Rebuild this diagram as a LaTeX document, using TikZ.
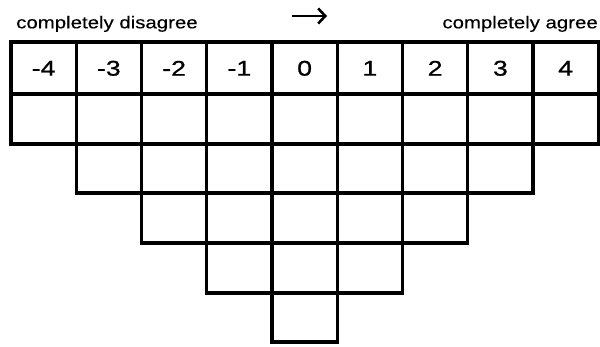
\documentclass[tikz,border=0pt]{standalone}
\usepackage{fontspec}
\setmainfont{Liberation Sans}
\newfontfamily\heavysans{Liberation Sans}[FakeBold=0.9]
\newfontfamily\lightsans{Liberation Sans}[FakeBold=0.3]
\usetikzlibrary{arrows.meta}

\tikzset{
  cell/.style={line width=3.3pt, line join=miter},
  lbl/.style={inner sep=0pt, xscale=1.2, font=\lightsans\fontsize{17}{20}\selectfont},
  num/.style={inner sep=0pt, xscale=1.25, font=\heavysans\fontsize{21.3}{24}\selectfont},
}

\begin{document}
\begin{tikzpicture}[x=1pt,y=-1pt]
\useasboundingbox (0,0) rectangle (600,346);
%Skala
\node[lbl, anchor=base west] (dis) at (16,28.3) {completely disagree};
\node[lbl, anchor=base east] (agr) at (598,28.3) {completely agree};
\coordinate (arrL) at (292,16);
\coordinate (arrR) at (327,16);
\draw[line width=2.6pt, -{Straight Barb[length=7pt,width=15pt]}] (arrL) -- (arrR);
%Raster
\foreach \yt/\yb/\a/\b in {42/94/0/8, 94/144/0/8, 144/193/1/7, 193/243/2/6, 243/293/3/5, 293/342/4/4}
  \foreach \c in {\a,...,\b}
    \draw[cell] ({11+65.25*\c},\yt) rectangle ({11+65.25*(\c+1)},\yb);
%Werte
\foreach \v [count=\i] in {-4,...,4}
  \node[num] (s\i) at ({11+65.25*(\i-0.5)},68.3) {\v};
\end{tikzpicture}
\end{document}
